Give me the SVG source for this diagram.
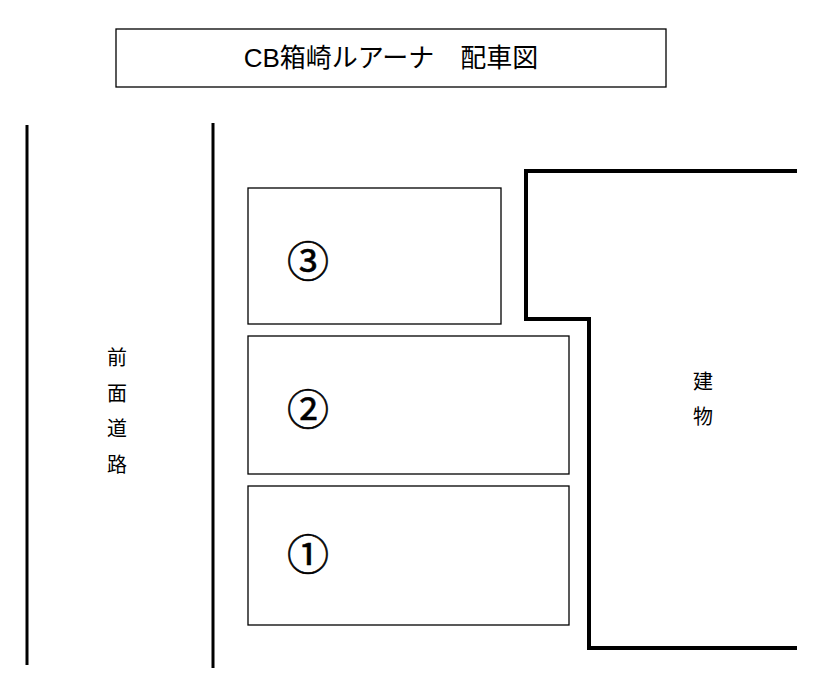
<svg xmlns="http://www.w3.org/2000/svg" width="832" height="686" viewBox="0 0 832 686">
<style>
.t{font-family:"Liberation Sans","Noto Sans CJK JP",sans-serif;fill:#000}
.c{font-family:"Noto Sans CJK JP",sans-serif;fill:#000;font-size:42px;text-anchor:middle;stroke:#000;stroke-width:0.6}
.box{fill:#fff;stroke:#000;stroke-width:1.3}
</style>
<rect width="832" height="686" fill="#fff"/>
<g id="title"><rect class="box" x="116" y="29" width="550" height="58"/>
<text class="t" x="391" y="67" font-size="26" text-anchor="middle">CB箱崎ルアーナ　配車図</text></g>
<g id="connectors" stroke="#000" fill="none">
<line x1="27" y1="125" x2="27" y2="665" stroke-width="3"/>
<line x1="213" y1="123" x2="213" y2="668" stroke-width="3"/>
</g>
<g id="road"><text class="t" font-size="20" text-anchor="middle"><tspan x="117" y="365">前</tspan><tspan x="117" y="401">面</tspan><tspan x="117" y="436">道</tspan><tspan x="117" y="472">路</tspan></text></g>
<g id="p3"><rect class="box" x="248" y="188" width="253" height="136"/><text class="c" x="308" y="277">③</text></g>
<g id="p2"><rect class="box" x="248" y="336" width="321" height="138"/><text class="c" x="308" y="425">②</text></g>
<g id="p1"><rect class="box" x="248" y="486" width="321" height="139"/><text class="c" x="308" y="570">①</text></g>
<g id="building"><path d="M797 171H526V319H589V648H797" fill="none" stroke="#000" stroke-width="4"/>
<text class="t" font-size="20" text-anchor="middle"><tspan x="703" y="389">建</tspan><tspan x="703" y="424">物</tspan></text></g>
</svg>
